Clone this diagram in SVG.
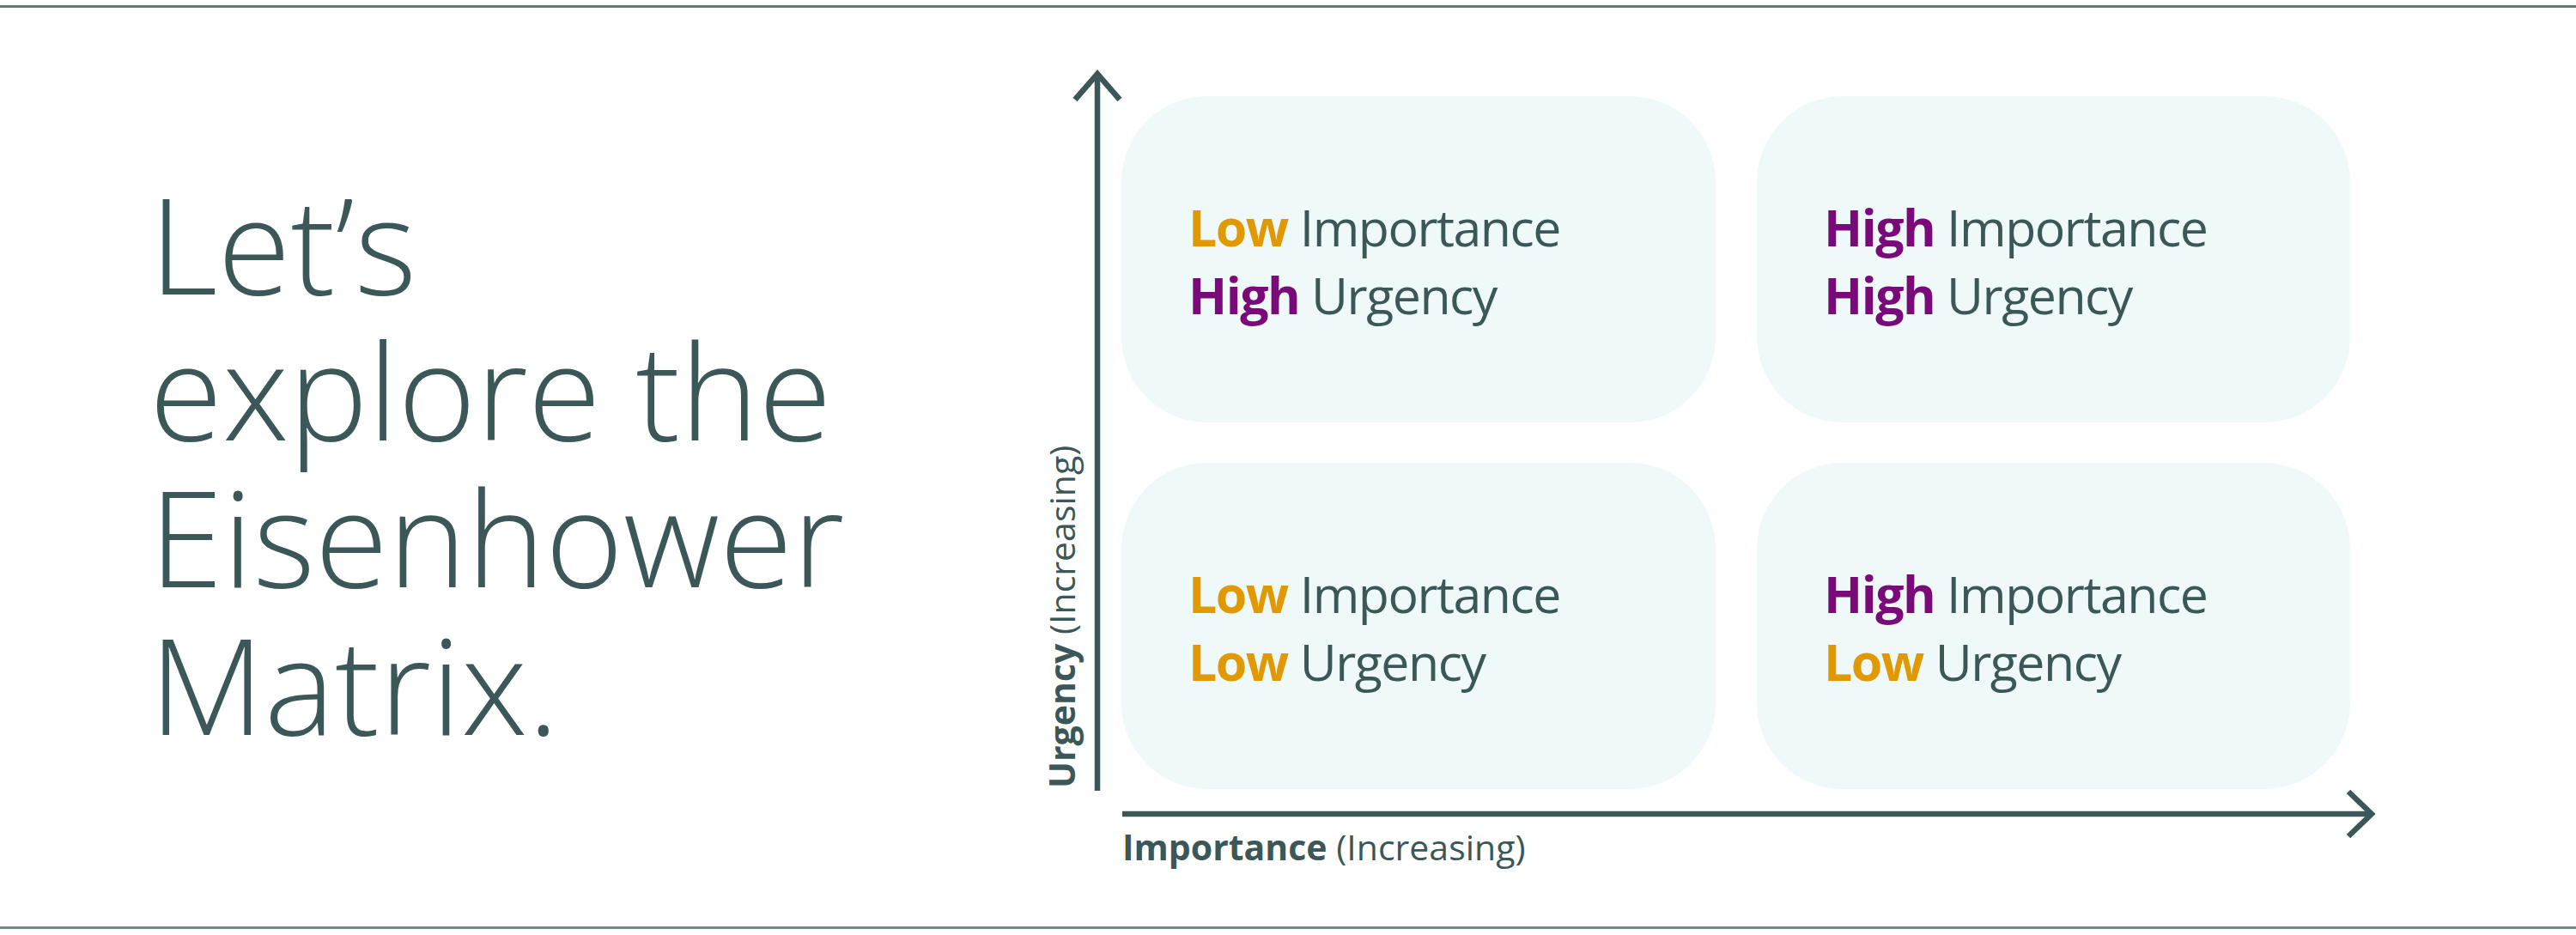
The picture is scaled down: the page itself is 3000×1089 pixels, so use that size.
<svg xmlns="http://www.w3.org/2000/svg" width="3000" height="1089" viewBox="0 0 3000 1089">
<style>
  .t { font-family: "Open Sans", "Noto Sans", "Liberation Sans", sans-serif; fill: #3b5757; }
  .title { font-size: 155px; font-weight: 300; }
  .lbl { font-size: 59px; font-weight: 400; letter-spacing: -1.5px; }
  .ax { font-size: 41px; font-weight: 400; }
  .b { font-weight: 700; }
  .low { fill: #e09900; }
  .high { fill: #7a0a7a; }
  .box { fill: #f0f9fa; }
  .axis { stroke: #3b5757; stroke-width: 6.5; fill: none; }
</style>
<rect x="0" y="0" width="3000" height="1089" fill="#ffffff"/>
<rect x="0" y="6" width="3000" height="3" fill="#5f7a77"/>
<rect x="0" y="1079" width="3000" height="3" fill="#6f8a87"/>

<g id="title">
  <text class="t title" x="174" y="343">Let’s</text>
  <text class="t title" x="174" y="513">explore the</text>
  <text class="t title" x="174" y="684">Eisenhower</text>
  <text class="t title" x="174" y="856">Matrix.</text>
</g>

<g id="q-low-imp-high-urg">
  <rect class="box" x="1306" y="112" width="692" height="380" rx="100" ry="100"/>
  <text class="t lbl" x="1384" y="287"><tspan class="b low">Low</tspan> Importance</text>
  <text class="t lbl" x="1384" y="366"><tspan class="b high">High</tspan> Urgency</text>
</g>
<g id="q-high-imp-high-urg">
  <rect class="box" x="2046" y="112" width="691" height="380" rx="100" ry="100"/>
  <text class="t lbl" x="2124" y="287"><tspan class="b high">High</tspan> Importance</text>
  <text class="t lbl" x="2124" y="366"><tspan class="b high">High</tspan> Urgency</text>
</g>
<g id="q-low-imp-low-urg">
  <rect class="box" x="1306" y="539" width="692" height="380" rx="100" ry="100"/>
  <text class="t lbl" x="1384" y="714"><tspan class="b low">Low</tspan> Importance</text>
  <text class="t lbl" x="1384" y="793"><tspan class="b low">Low</tspan> Urgency</text>
</g>
<g id="q-high-imp-low-urg">
  <rect class="box" x="2046" y="539" width="691" height="380" rx="100" ry="100"/>
  <text class="t lbl" x="2124" y="714"><tspan class="b high">High</tspan> Importance</text>
  <text class="t lbl" x="2124" y="793"><tspan class="b low">Low</tspan> Urgency</text>
</g>

<g id="axes">
  <line class="axis" x1="1278" y1="921" x2="1278" y2="86"/>
  <polyline class="axis" points="1252,116 1278,86 1304,116"/>
  <line class="axis" x1="1307" y1="948" x2="2762" y2="948"/>
  <polyline class="axis" points="2735,922 2762,948 2735,974"/>
  <text class="t ax" x="1307" y="1002"><tspan class="b">Importance</tspan> (Increasing)</text>
  <text class="t ax" transform="translate(1252,918) rotate(-90)"><tspan class="b">Urgency</tspan> (Increasing)</text>
</g>
</svg>
